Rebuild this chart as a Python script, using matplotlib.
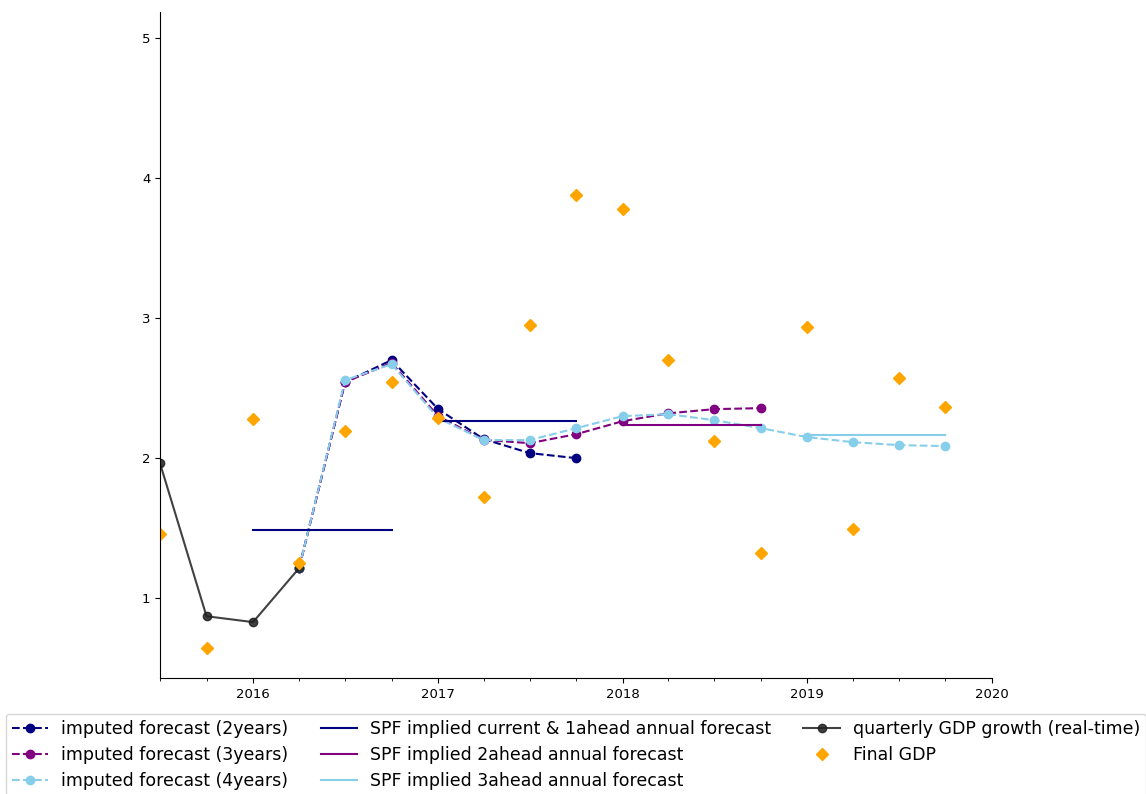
import matplotlib
matplotlib.use("Agg")
import matplotlib.pyplot as plt
import matplotlib.dates as mdates
import pandas as pd

# Quarterly dates
quarters = pd.date_range("2015-07-01", periods=18, freq="QS")

# Real-time quarterly GDP growth
gdp_realtime_dates = quarters[0:4]
gdp_realtime = [1.964, 0.871, 0.829, 1.214]

# Imputed forecasts (start at the last real-time observation)
imp2_dates = quarters[3:10]
imp2 = [1.214, 2.543, 2.700, 2.350, 2.136, 2.036, 2.000]

imp3_dates = quarters[3:14]
imp3 = [1.214, 2.543, 2.680, 2.300, 2.130, 2.107, 2.171, 2.264, 2.320, 2.350, 2.357]

imp4_dates = quarters[3:18]
imp4 = [1.214, 2.557, 2.671, 2.286, 2.129, 2.129, 2.214, 2.300, 2.314,
        2.271, 2.214, 2.150, 2.114, 2.093, 2.086]

# SPF implied annual forecasts (flat over the year's four quarters)
spf1_segments = [(quarters[2], quarters[5], 1.486), (quarters[6], quarters[9], 2.264)]
spf2_segments = [(quarters[10], quarters[13], 2.236)]
spf3_segments = [(quarters[14], quarters[17], 2.164)]

# Final GDP
final_gdp = [1.457, 0.643, 2.279, 1.250, 2.193, 2.543, 2.286, 1.721, 2.950,
             3.879, 3.779, 2.700, 2.121, 1.321, 2.936, 1.493, 2.571, 2.364]

fig = plt.figure(figsize=(11.46, 7.94), dpi=100)
ax = fig.add_axes([0.1396, 0.1461, 0.7260, 0.8388])

h_imp2, = ax.plot(imp2_dates, imp2, "--o", color="navy", ms=6, lw=1.5,
                  label="imputed forecast (2years)")
h_imp3, = ax.plot(imp3_dates, imp3, "--o", color="purple", ms=6, lw=1.5,
                  label="imputed forecast (3years)")
h_imp4, = ax.plot(imp4_dates, imp4, "--o", color="skyblue", ms=6, lw=1.5,
                  label="imputed forecast (4years)")

h_spf1 = h_spf2 = h_spf3 = None
for start, end, val in spf1_segments:
    h_spf1, = ax.plot([start, end], [val, val], color="navy", lw=1.5)
for start, end, val in spf2_segments:
    h_spf2, = ax.plot([start, end], [val, val], color="purple", lw=1.5)
for start, end, val in spf3_segments:
    h_spf3, = ax.plot([start, end], [val, val], color="skyblue", lw=1.5)
h_spf1.set_label("SPF implied current & 1ahead annual forecast")
h_spf2.set_label("SPF implied 2ahead annual forecast")
h_spf3.set_label("SPF implied 3ahead annual forecast")

h_rt, = ax.plot(gdp_realtime_dates, gdp_realtime, "-o", color="#202020", alpha=0.85,
                ms=6, lw=1.5, label="quarterly GDP growth (real-time)")
h_final, = ax.plot(quarters, final_gdp, "D", color="orange", ms=6, ls="none",
                   label="Final GDP")

ax.set_xlim(pd.Timestamp("2015-07-01"), pd.Timestamp("2020-01-01"))
ax.set_ylim(0.43, 5.186)
ax.xaxis.set_major_locator(mdates.YearLocator())
ax.xaxis.set_major_formatter(mdates.DateFormatter("%Y"))
ax.xaxis.set_minor_locator(mdates.MonthLocator(bymonth=[1, 4, 7, 10]))
ax.set_yticks([1, 2, 3, 4, 5])
ax.tick_params(axis="both", labelsize=9.5)
ax.spines["top"].set_visible(False)
ax.spines["right"].set_visible(False)

handles = [h_imp2, h_imp3, h_imp4, h_spf1, h_spf2, h_spf3, h_rt, h_final]
fig.legend(handles=handles, labels=[h.get_label() for h in handles],
           loc="upper center", bbox_to_anchor=(0.5026, 0.1008), ncol=3,
           fontsize=12.5, handlelength=2.1, columnspacing=1.85,
           borderpad=0.35, labelspacing=0.47, handletextpad=0.75,
           borderaxespad=0.0)

fig.savefig("out.png", dpi=100)
